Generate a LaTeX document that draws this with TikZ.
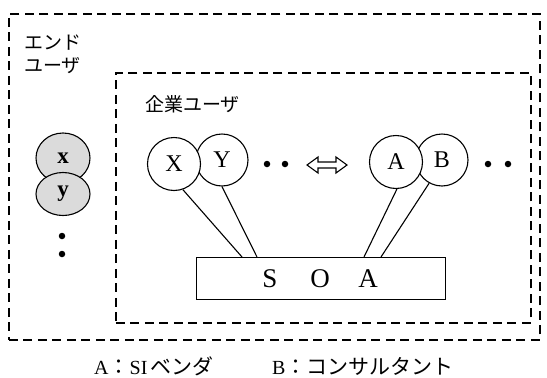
\documentclass[tikz,border=0pt]{standalone}
\usepackage{fontspec}
\setmainfont{Liberation Serif}
\newfontfamily\jp{Noto Sans CJK JP}
\usetikzlibrary{calc,shapes.geometric}
\begin{document}
\begin{tikzpicture}[x=1pt,y=-1pt,
  dashbox/.style={draw,line width=1.6pt,dash pattern=on 9pt off 5.5pt},
  member/.style={draw,line width=1.1pt,fill=white,circle,minimum size=53pt,inner sep=0pt,font=\fontsize{24}{24}\selectfont},
  enduser/.style={draw,line width=1.1pt,fill=black!14,ellipse,minimum width=54pt,inner sep=0pt,font=\bfseries\fontsize{23}{23}\selectfont},
  jplabel/.style={font=\jp\fontsize{19}{20}\selectfont,inner sep=0pt,anchor=west},
  captext/.style={inner sep=0pt,anchor=west,font=\fontsize{20}{20}\selectfont},
  link/.style={line width=1.1pt},
  dot/.style={circle,fill=black,inner sep=0pt,minimum size=6.5pt},
  soaletter/.style={font=\fontsize{27}{27}\selectfont,inner sep=0pt}
]
\useasboundingbox (0,0) rectangle (547,378);
% dashed frames
\node[dashbox,minimum width=531pt,minimum height=326pt,anchor=north west] (outer) at (8,13) {};
\node[dashbox,minimum width=415pt,minimum height=250pt,anchor=north west] (inner) at (115,72) {};
% labels
\node[jplabel] (eu1) at (24,43) {エンド};
\node[jplabel] (eu2) at (24,66) {ユーザ};
\node[jplabel] (ku) at (145,104) {企業ユーザ};
% end users
\node[enduser,minimum height=50pt] (ex) at (63,158) {x};
\node[enduser,minimum height=43pt] (ey) at (63,194) {y};
\node[dot] (ed1) at (62,236) {};
\node[dot] (ed2) at (62,254) {};
% SOA
\node[draw,line width=1.1pt,minimum width=249pt,minimum height=42pt,anchor=north west,inner sep=0pt] (soa) at (196,257) {};
\node[soaletter] (s1) at (270,279) {S};
\node[soaletter] (s2) at (320,279) {O};
\node[soaletter] (s3) at (368,279) {A};
\coordinate (pX) at (242,257);
\coordinate (pY) at (257,257);
\coordinate (pA) at (364,257);
\coordinate (pB) at (381,257);
% members
\node[member,minimum size=52pt] (Y) at (222,160) {Y};
\node[member] (X) at (174,164) {X};
\node[member,minimum size=52pt] (B) at (442,160) {B};
\node[member] (A) at (396,162) {A};
\draw[link] (X.-71) -- (pX);
\draw[link] (Y.-90) -- (pY);
\draw[link] (A.-88) -- (pA);
\draw[link] (B.-119) -- (pB);
% dots and arrow
\node[dot] (d1) at (267,164) {};
\node[dot] (d2) at (285,164) {};
\node[dot] (d3) at (488,164) {};
\node[dot] (d4) at (508,164) {};
\coordinate (ar) at (327,165);
\draw[line width=1.1pt,line join=miter] ($(ar)+(-20,0)$) -- ++(11,-8) -- ++(0,5) -- ++(18,0) -- ++(0,-5) -- ++(11,8) -- ++(-11,8) -- ++(0,-5) -- ++(-18,0) -- ++(0,5) -- cycle;
% caption
\node[captext] (ca) at (94,366) {A{\jp\fontsize{21}{21}\selectfont ：}SI\,{\jp\fontsize{21}{21}\selectfont ベンダ}};
\node[captext] (cb) at (272,366) {B{\jp\fontsize{21}{21}\selectfont ：コンサルタント}};
\end{tikzpicture}
\end{document}
